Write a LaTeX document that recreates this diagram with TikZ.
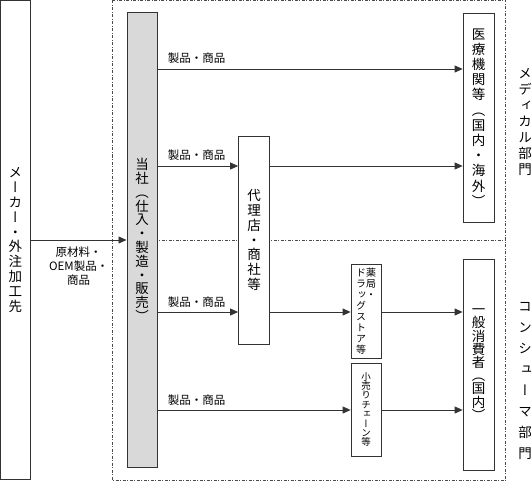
\documentclass[tikz,border=0pt]{standalone}
\usepackage{fontspec}
\usepackage{tikz}
\usetikzlibrary{arrows.meta}
\newfontfamily\jp{Noto Sans CJK JP}
\newfontfamily\jpv[RawFeature=+vert]{Noto Sans CJK JP}
\newcommand{\tatefont}[2]{\jpv\fontsize{#1}{#2}\selectfont\lineskiplimit=-100pt\relax}

\begin{document}
\begin{tikzpicture}[x=1pt, y=-1pt]
    % Styles
    \tikzstyle{box} = [rectangle, draw=black!80, line width=0.8pt, fill=white, inner sep=0pt, align=center, font=\tatefont{13.5}{14.8}]
    \tikzstyle{arrow} = [-{Triangle[length=8pt,width=7pt]}, line width=0.8pt, draw=black!80]
    \tikzstyle{region} = [draw=black!70, line width=0.5pt, dash pattern=on 3pt off 1.5pt on 1pt off 1.5pt]
    \tikzstyle{lbl} = [inner sep=0pt, font=\jp\fontsize{11.5}{13}\selectfont]
    \tikzstyle{dept} = [inner sep=0pt, align=center, font=\tatefont{13.5}{16}]

    \useasboundingbox (0,0) rectangle (532,481);

    % Regions
    \draw[region] (112.5,0.5) rectangle (505.5,480.5);
    \draw[region] (112.5,240) -- (505.5,240);

    % Rows of the flows
    \coordinate (r1) at (0,69);
    \coordinate (r2) at (0,166);
    \coordinate (r3) at (0,312);
    \coordinate (r4) at (0,410);

    % Nodes
    \node[box, minimum width=30pt, minimum height=479pt] (maker) at (15.5,240) {メ\\ー\\カ\\ー\\・\\外\\注\\加\\工\\先};
    \node[box, fill=black!15, line width=1pt, minimum width=30pt, minimum height=454pt, font=\tatefont{13.5}{13.8}] (tosha) at (142,240) {当\\社\\（\\仕\\入\\・\\製\\造\\・\\販\\売\\）};
    \node[box, minimum width=31pt, minimum height=208pt] (dairiten) at (254,240) {代\\理\\店\\・\\商\\社\\等};
    \node[box, minimum width=31pt, minimum height=209pt, font=\tatefont{13.5}{15.2}] (iryo) at (478.5,117.5) {医\\療\\機\\関\\等\\（\\国\\内\\・\\海\\外\\）};
    \node[box, minimum width=30pt, minimum height=94pt, align=left, font=\tatefont{10}{11}] (yakkyoku) at (366,311) {ド薬\\ラ局\\ッ・\\グ\\ス\\ト\\ア\\等};
    \node[box, minimum width=30pt, minimum height=93pt, font=\tatefont{9.5}{9.4}] (kouri) at (366,409.5) {小\\売\\り\\チ\\ェ\\ー\\ン\\等};
    \node[box, minimum width=31pt, minimum height=211pt, font=\tatefont{13.5}{13.2}] (ippan) at (478.5,364.5) {一\\般\\消\\費\\者\\（\\国\\内\\）};

    % Departments
    \node[dept] (medical) at (525,122) {メ\\デ\\ィ\\カ\\ル\\部\\門};
    \node[dept, font=\tatefont{13.5}{21}] (consumer) at (525,381) {コ\\ン\\シ\\ュ\\ー\\マ\\部\\門};

    % Arrows
    \draw[arrow] (maker) -- node[midway, anchor=north, yshift=-6pt, inner sep=0pt, align=center, font=\jp\fontsize{11.5}{14}\selectfont] (material) {原材料・\\OEM製品・\\商品} (tosha);
    \draw[arrow] (tosha.east |- r1) -- node[lbl, pos=0, anchor=base west, xshift=10pt, yshift=6pt] (p1) {製品・商品} (iryo.west |- r1);
    \draw[arrow] (tosha.east |- r2) -- node[lbl, pos=0, anchor=base west, xshift=10pt, yshift=6pt] (p2) {製品・商品} (dairiten.west |- r2);
    \draw[arrow] (dairiten.east |- r2) -- (iryo.west |- r2);
    \draw[arrow] (tosha.east |- r3) -- node[lbl, pos=0, anchor=base west, xshift=10pt, yshift=6pt] (p3) {製品・商品} (dairiten.west |- r3);
    \draw[arrow] (dairiten.east |- r3) -- (yakkyoku.west |- r3);
    \draw[arrow] (yakkyoku.east |- r3) -- (ippan.west |- r3);
    \draw[arrow] (tosha.east |- r4) -- node[lbl, pos=0, anchor=base west, xshift=10pt, yshift=6pt] (p4) {製品・商品} (kouri.west |- r4);
    \draw[arrow] (kouri.east |- r4) -- (ippan.west |- r4);
\end{tikzpicture}
\end{document}
